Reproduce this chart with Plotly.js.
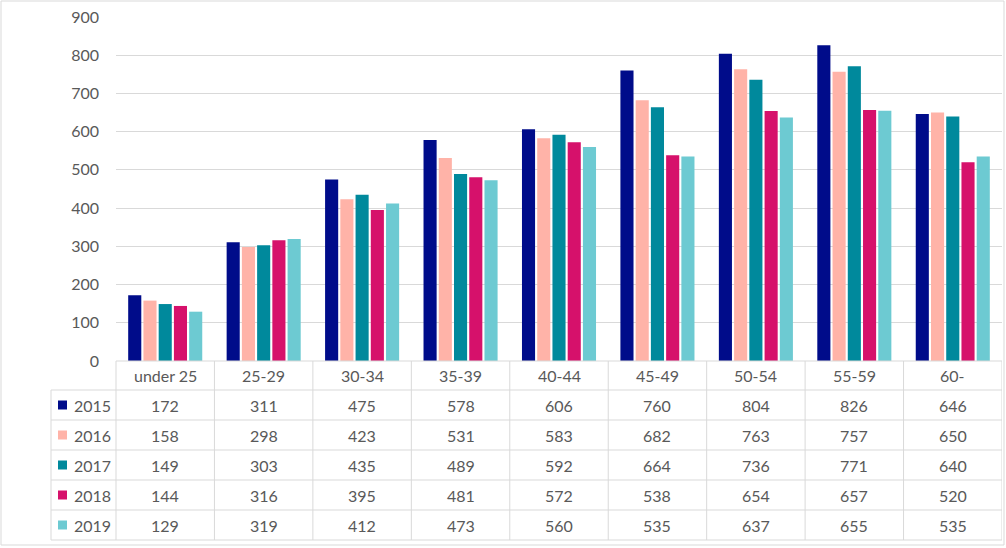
<!DOCTYPE html>
<html>
<head>
<meta charset="utf-8">
<script src="https://cdn.plot.ly/plotly-3.0.1.min.js"></script>
<style>
  html, body { margin: 0; padding: 0; background: #fff; }
  #chart { width: 1006px; height: 548px; }
</style>
</head>
<body>
<div id="chart"></div>
<script>
const categories = ["under 25", "25-29", "30-34", "35-39", "40-44", "45-49", "50-54", "55-59", "60-"];
const years = ["2015", "2016", "2017", "2018", "2019"];
const v2015 = [172, 311, 475, 578, 606, 760, 804, 826, 646];
const v2016 = [158, 298, 423, 531, 583, 682, 763, 757, 650];
const v2017 = [149, 303, 435, 489, 592, 664, 736, 771, 640];
const v2018 = [144, 316, 395, 481, 572, 538, 654, 657, 520];
const v2019 = [129, 319, 412, 473, 560, 535, 637, 655, 535];
const yTicks = [0, 100, 200, 300, 400, 500, 600, 700, 800, 900];

const seriesValues = [v2015, v2016, v2017, v2018, v2019];
const colors = ["#000C8A", "#FFB3A8", "#00899C", "#D6116B", "#6DCAD2"];

(function () {
  const W = 1006, H = 548;
  const M = { l: 116, r: 4, t: 17, b: 187 };
  const pw = W - M.l - M.r, ph = H - M.t - M.b;
  const px = (x) => (x - M.l) / pw;
  const py = (y) => (H - M.b - y) / ph;
  const grid = "#D9D9D9";
  const txt = "#595959";
  const font = { family: "Lato, 'Open Sans', sans-serif", size: 16, color: txt };

  const traces = years.map((yr, i) => ({
    type: "bar", name: yr, x: categories, y: seriesValues[i],
    marker: { color: colors[i] }, hoverinfo: "x+y+name"
  }));

  const rowLines = [361, 390, 420, 450, 480, 510, 540];
  const rowCenters = [405, 435, 465, 495, 525];
  const shapes = [];
  const ann = [];

  // outer chart border
  shapes.push({ type: "rect", xref: "paper", yref: "paper", x0: px(1), x1: px(1004), y0: py(1), y1: py(545),
    line: { color: grid, width: 1 }, fillcolor: "rgba(0,0,0,0)", layer: "below" });

  // horizontal table lines
  rowLines.forEach((y, k) => {
    shapes.push({ type: "line", xref: "paper", yref: "paper", x0: k === 0 ? px(116) : px(51), x1: px(1002),
      y0: py(y), y1: py(y), line: { color: grid, width: 1 } });
  });
  // vertical table lines
  shapes.push({ type: "line", xref: "paper", yref: "paper", x0: px(51), x1: px(51), y0: py(390), y1: py(540), line: { color: grid, width: 1 } });
  shapes.push({ type: "line", xref: "paper", yref: "paper", x0: px(116), x1: px(116), y0: py(361), y1: py(540), line: { color: grid, width: 1 } });
  categories.forEach((c, i) => {
    shapes.push({ type: "line", xref: "x", yref: "paper", x0: i + 0.5, x1: i + 0.5, y0: py(361), y1: py(540), line: { color: grid, width: 1 } });
    ann.push({ xref: "x", yref: "paper", x: i, y: py(375.5), text: c, showarrow: false, font: font, xanchor: "center", yanchor: "middle" });
  });

  years.forEach((yr, r) => {
    const yc = rowCenters[r];
    shapes.push({ type: "rect", xref: "paper", yref: "paper", x0: px(58), x1: px(67), y0: py(yc - 4.5), y1: py(yc + 4.5),
      line: { width: 0 }, fillcolor: colors[r] });
    ann.push({ xref: "paper", yref: "paper", x: px(72), y: py(yc), text: yr, showarrow: false, font: font, xanchor: "left", yanchor: "middle" });
    seriesValues[r].forEach((v, i) => {
      ann.push({ xref: "x", yref: "paper", x: i, y: py(yc), text: String(v), showarrow: false, font: font, xanchor: "center", yanchor: "middle" });
    });
  });

  const layout = {
    width: W, height: H,
    margin: M,
    paper_bgcolor: "#fff", plot_bgcolor: "#fff",
    font: font,
    showlegend: false,
    barmode: "group", bargap: 0.226, bargroupgap: 0.14,
    xaxis: { type: "category", range: [-0.5, categories.length - 0.5], showticklabels: false, showgrid: false,
      zeroline: false, showline: false, ticks: "", fixedrange: true },
    yaxis: { range: [0, 900], tickvals: yTicks, ticktext: yTicks.map(String), showgrid: true, gridcolor: grid, gridwidth: 1,
      zeroline: false, showline: false, ticks: "", ticklabelstandoff: 16, tickfont: font, fixedrange: true },
    shapes: shapes,
    annotations: ann
  };

  Plotly.newPlot("chart", traces, layout, { displayModeBar: false, staticPlot: true });
})();
</script>
</body>
</html>
